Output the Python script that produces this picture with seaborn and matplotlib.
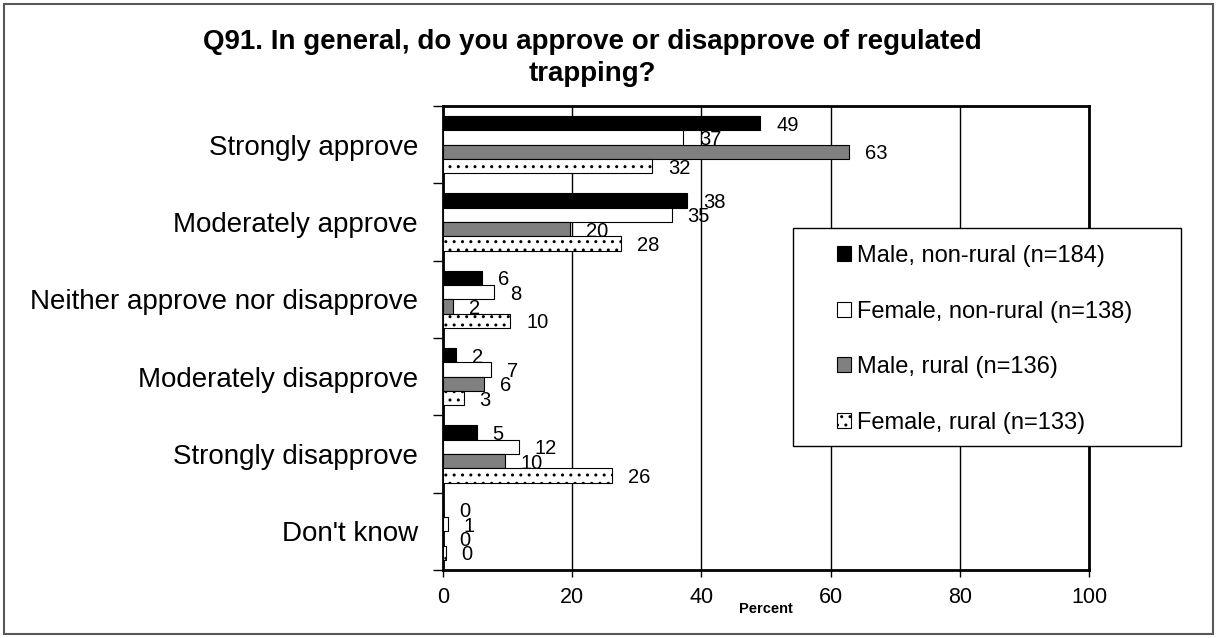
import numpy as np
import pandas as pd
import matplotlib
matplotlib.use("Agg")
import matplotlib.pyplot as plt
from matplotlib.patches import Patch, Rectangle
import seaborn as sns

# ---- data -------------------------------------------------------------
categories = [
    "Strongly approve",
    "Moderately approve",
    "Neither approve nor disapprove",
    "Moderately disapprove",
    "Strongly disapprove",
    "Don't know",
]
groups = [
    "Male, non-rural (n=184)",
    "Female, non-rural (n=138)",
    "Male, rural (n=136)",
    "Female, rural (n=133)",
]
male_nonrural = [49.1, 37.8, 6.1, 2.0, 5.2, 0.0]
female_nonrural = [37.2, 35.4, 7.9, 7.4, 11.7, 0.7]
male_rural = [62.9, 19.6, 1.6, 6.4, 9.6, 0.0]
female_rural = [32.4, 27.6, 10.4, 3.2, 26.1, 0.4]
x_ticks = [0, 20, 40, 60, 80, 100]

series = [male_nonrural, female_nonrural, male_rural, female_rural]
fills = ["#000000", "#ffffff", "#808080", "#ffffff"]
hatches = [None, None, None, ".."]

df = pd.DataFrame(
    [
        {"Response": cat, "Group": grp, "Percent": val}
        for grp, vals in zip(groups, series)
        for cat, val in zip(categories, vals)
    ]
)

# ---- figure -----------------------------------------------------------
plt.rcParams["font.family"] = ["Liberation Sans", "DejaVu Sans"]
plt.rcParams["hatch.linewidth"] = 1.0

W, H = 1217, 638
fig = plt.figure(figsize=(W / 100, H / 100), dpi=100)
fig.patch.set_facecolor("white")
ax = fig.add_axes([443 / W, 1 - 570 / H, 646 / W, 464 / H])

sns.barplot(
    data=df,
    x="Percent",
    y="Response",
    hue="Group",
    order=categories,
    hue_order=groups,
    palette=dict(zip(groups, fills)),
    saturation=1,
    orient="h",
    width=0.74,
    errorbar=None,
    edgecolor="black",
    linewidth=0.8,
    legend=False,
    ax=ax,
)

# value labels sit just past each bar end, tucked under the bars below
for cont, vals, hatch in zip(ax.containers, series, hatches):
    for bar in cont:
        bar.set_zorder(3)
        if hatch:
            bar.set_hatch(hatch)
    anns = ax.bar_label(
        cont,
        labels=[f"{v:.0f}" for v in vals],
        padding=11.5,
        fontsize=14.5,
        color="black",
        zorder=2,
    )
    for ann in anns:
        ann.xyann = (ann.xyann[0], ann.xyann[1] - 1.5)

# axes styling
ax.set_xlim(0, 100)
ax.set_ylim(len(categories) - 0.5, -0.5)
ax.set_xticks(x_ticks)
ax.set_axisbelow(True)
ax.xaxis.grid(True, color="black", linewidth=1.0)
ax.yaxis.grid(False)
for sp in ax.spines.values():
    sp.set_visible(True)
    sp.set_color("black")
    sp.set_linewidth(2.0)

ax.set_ylabel("")
ax.set_xlabel("Percent", fontsize=10.5, fontweight="bold", labelpad=-4)
ax.tick_params(axis="x", length=5, width=1, direction="out", pad=7,
               labelsize=15.5, colors="black")
ax.tick_params(axis="y", which="major", length=0, pad=18, labelsize=20,
               colors="black")
ax.set_yticks(np.arange(-0.5, len(categories), 1.0), minor=True)
ax.tick_params(axis="y", which="minor", length=7, width=1, direction="out")

# legend box and entries
box = Rectangle(
    (793 / W, 1 - 446 / H), (1181 - 793) / W, (446 - 228) / H,
    transform=fig.transFigure, facecolor="white", edgecolor="black",
    linewidth=1.0, zorder=4,
)
fig.add_artist(box)
handles = [
    Patch(facecolor=f, edgecolor="black", hatch=h, linewidth=0.8)
    for f, h in zip(fills, hatches)
]
fig.legend(
    handles, groups,
    loc="upper left",
    bbox_to_anchor=(837 / W, 1 - 245 / H),
    frameon=False,
    fontsize=17,
    handlelength=0.6,
    handleheight=0.6,
    handletextpad=0.25,
    labelspacing=1.42,
    borderpad=0,
    borderaxespad=0,
)

# title
fig.text(
    592 / W, 1 - 29 / H,
    "Q91. In general, do you approve or disapprove of regulated\ntrapping?",
    ha="center", va="top", fontsize=20, fontweight="bold", linespacing=1.3,
)

# chart-area border
fig.add_artist(Rectangle(
    (4 / W, 4 / H), (W - 8) / W, (H - 8) / H,
    transform=fig.transFigure, fill=False, edgecolor="#595959",
    linewidth=1.5, zorder=0,
))

fig.savefig("out.png", dpi=100)
